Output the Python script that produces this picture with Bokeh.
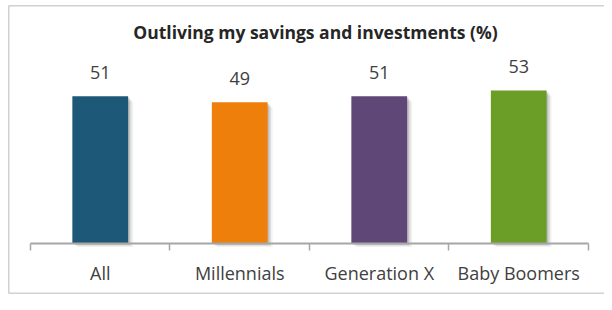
from bokeh.plotting import figure
from bokeh.models import (ColumnDataSource, Range1d, LinearAxis, FixedTicker,
                          Label, Span)
from bokeh.transform import dodge
from bokeh.embed import file_html
from bokeh.resources import INLINE
from bokeh.core.properties import value

# ---- data ----
categories = ["All", "Millennials", "Generation X", "Baby Boomers"]
values = [51, 49, 51, 53]
colors = ["#1D5879", "#EF7F0B", "#5F4878", "#6A9E27"]
title_text = "Outliving my savings and investments (%)"

FONT = "Open Sans"
n = len(categories)
xpos = [i + 0.5 for i in range(n)]

src = ColumnDataSource(dict(x=xpos, top=values, color=colors,
                            label=[str(v) for v in values]))

W, H = 604, 294
p = figure(width=W, height=H, output_backend="svg", toolbar_location=None,
           x_range=Range1d(-0.1577, 4.1147), y_range=Range1d(-17.33, 82.5),
           x_axis_location=None, y_axis_location=None,
           min_border_left=8, min_border_right=0,
           min_border_top=5, min_border_bottom=1)
p.outline_line_color = None
p.grid.visible = False
p.background_fill_color = "white"
p.border_fill_color = "white"

# chart border (left, top, bottom)
BORDER = "#a3a3a3"
p.add_layout(Span(location=p.x_range.start, dimension="height",
                  line_color=BORDER, line_width=1.5))
p.add_layout(Span(location=p.y_range.end, dimension="width",
                  line_color=BORDER, line_width=1.5))
p.add_layout(Span(location=p.y_range.start, dimension="width",
                  line_color=BORDER, line_width=1.5))

# soft bar shadows
for k, a in [(3, 0.05), (2, 0.09), (1, 0.14)]:
    shadow_top = [v - 0.6 * k for v in values]
    ssrc = ColumnDataSource(dict(x=xpos, top=shadow_top))
    p.vbar(x=dodge("x", 0.012 * k, range=p.x_range), top="top", bottom=-0.4 * k,
           width=0.4, source=ssrc, fill_color="black", fill_alpha=a,
           line_color=None)

p.vbar(x="x", top="top", bottom=0, width=0.4, source=src,
       fill_color="color", line_color=None)

p.text(x="x", y="top", text="label", source=src, y_offset=-24,
       text_align="center", text_baseline="middle",
       text_font=value(FONT), text_font_size="18px", text_color="#404040")

# x axis at y=0: boundary ticks (minor) and category labels (major)
ax = LinearAxis(ticker=FixedTicker(ticks=xpos, minor_ticks=list(range(n + 1))),
                fixed_location=0, bounds=(0, n))
ax.major_label_overrides = {x: c for x, c in zip(xpos, categories)}
ax.major_tick_line_color = None
ax.major_tick_out = 0
ax.major_tick_in = 0
ax.minor_tick_out = 7
ax.minor_tick_in = 0
ax.minor_tick_line_color = "#a6a6a6"
ax.minor_tick_line_width = 1.5
ax.axis_line_color = "#a6a6a6"
ax.axis_line_width = 2
ax.major_label_standoff = 10
ax.major_label_text_font = FONT
ax.major_label_text_font_size = "18px"
ax.major_label_text_color = "#404040"
p.add_layout(ax, "below")

p.add_layout(Label(x=2.043, y=73.3, text=title_text, text_align="center",
                   text_baseline="middle", text_font=FONT,
                   text_font_size="17.5px", text_font_style="bold",
                   text_color="#262626"))

open("out.html", "w").write(file_html(p, INLINE))
